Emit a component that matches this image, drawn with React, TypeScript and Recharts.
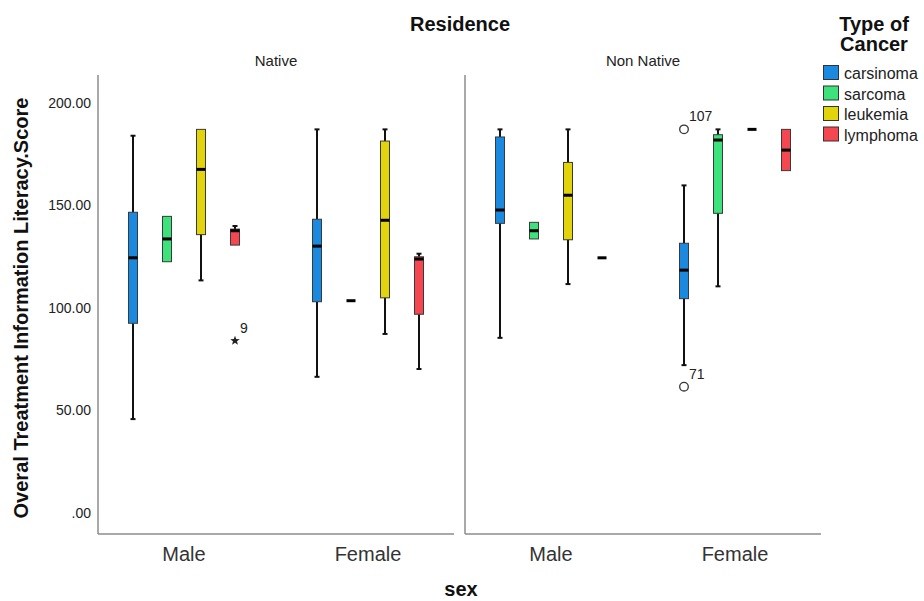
import React from 'react';
import { BarChart, Bar, XAxis, YAxis } from 'recharts';

const residences = ['Native', 'Non Native'];
const sexes = ['Male', 'Female'];
const cancerTypes = ['carsinoma', 'sarcoma', 'leukemia', 'lymphoma'];
const cancerColors = ['#1a8ae0', '#3de27b', '#e2d30b', '#f4474f'];
const yTicks = [0, 50, 100, 150, 200];

// [lower whisker, Q1, median, Q3, upper whisker]
// order: Native-Male, Native-Female, NonNative-Male, NonNative-Female
const carsinomaBoxes = [
  [45.8, 92.5, 124.4, 146.6, 183.9],
  [66.4, 103.0, 130.1, 143.2, 187.0],
  [85.4, 141.2, 147.7, 183.3, 187.0],
  [72.1, 104.5, 118.4, 131.5, 159.7],
];
const sarcomaBoxes = [
  [122.5, 122.5, 133.6, 144.6, 144.6],
  [103.5, 103.5, 103.5, 103.5, 103.5],
  [133.6, 133.6, 137.6, 141.7, 141.7],
  [110.5, 146.1, 181.8, 184.4, 187.0],
];
const leukemiaBoxes = [
  [113.4, 135.7, 167.5, 187.0, 187.0],
  [87.3, 104.9, 142.7, 181.3, 187.0],
  [111.6, 133.2, 154.9, 170.9, 187.0],
  [187.0, 187.0, 187.0, 187.0, 187.0],
];
const lymphomaBoxes = [
  [130.6, 130.6, 137.6, 138.4, 139.9],
  [70.2, 96.9, 123.8, 124.9, 126.4],
  [124.4, 124.4, 124.4, 124.4, 124.4],
  [166.9, 166.9, 176.9, 187.0, 187.0],
];
const boxesByType = [carsinomaBoxes, sarcomaBoxes, leukemiaBoxes, lymphomaBoxes];

const outlierPoints = [
  { cancer: 'lymphoma', residence: 'Native', sex: 'Male', value: 84.0, label: '9', marker: 'star' },
  { cancer: 'carsinoma', residence: 'Non Native', sex: 'Female', value: 187.0, label: '107', marker: 'circle' },
  { cancer: 'carsinoma', residence: 'Non Native', sex: 'Female', value: 61.6, label: '71', marker: 'circle' },
];

const FONT = '"Liberation Sans", Arial, Helvetica, sans-serif';
const Y_DOMAIN: [number, number] = [-10.2, 213.5];

function buildPanelData(ri: number) {
  return sexes.map((sex, si) => {
    const row: any = { sex };
    cancerTypes.forEach((c, ci) => {
      const s = boxesByType[ci][ri * 2 + si];
      const outs = outlierPoints.filter(
        (o) => o.cancer === c && o.residence === residences[ri] && o.sex === sex
      );
      const vals = [...s, ...outs.map((o) => o.value)];
      row[c] = {
        wl: s[0], q1: s[1], med: s[2], q3: s[3], wh: s[4], outs,
        min: Math.min(...vals), max: Math.max(...vals),
      };
    });
    return row;
  });
}

const panelData = residences.map((_, ri) => buildPanelData(ri));

function starPoints(cx: number, cy: number, R: number, r: number) {
  const pts: string[] = [];
  for (let i = 0; i < 10; i++) {
    const ang = -Math.PI / 2 + (i * Math.PI) / 5;
    const rad = i % 2 === 0 ? R : r;
    pts.push(`${cx + rad * Math.cos(ang)},${cy + rad * Math.sin(ang)}`);
  }
  return pts.join(' ');
}

const makeShape = (key: string, color: string) => (props: any) => {
  const { x, y, width, height, payload } = props;
  const st = payload[key];
  if (!st) return <g />;
  const top = Math.min(y, y + height);
  const bot = Math.max(y, y + height);
  const py = (v: number) =>
    st.max === st.min ? top : top + ((st.max - v) / (st.max - st.min)) * (bot - top);
  const cx = x + width / 2;
  const bw = 9;
  const cap = 2.5;
  return (
    <g>
      {st.wh > st.q3 && (
        <g>
          <line x1={cx} x2={cx} y1={py(st.wh)} y2={py(st.q3)} stroke="#111" strokeWidth={2} />
          <line x1={cx - cap} x2={cx + cap} y1={py(st.wh)} y2={py(st.wh)} stroke="#111" strokeWidth={2} />
        </g>
      )}
      {st.wl < st.q1 && (
        <g>
          <line x1={cx} x2={cx} y1={py(st.q1)} y2={py(st.wl)} stroke="#111" strokeWidth={2} />
          <line x1={cx - cap} x2={cx + cap} y1={py(st.wl)} y2={py(st.wl)} stroke="#111" strokeWidth={2} />
        </g>
      )}
      {st.q3 > st.q1 && (
        <rect
          x={cx - bw / 2}
          y={py(st.q3)}
          width={bw}
          height={py(st.q1) - py(st.q3)}
          fill={color}
          stroke="#3a3a3a"
          strokeWidth={1}
        />
      )}
      <line x1={cx - bw / 2} x2={cx + bw / 2} y1={py(st.med)} y2={py(st.med)} stroke="#000" strokeWidth={3} />
      {st.outs.map((o: any, i: number) => {
        const oy = py(o.value);
        return (
          <g key={i}>
            {o.marker === 'star' ? (
              <polygon points={starPoints(cx, oy, 5, 2.1)} fill="#222" />
            ) : (
              <circle cx={cx} cy={oy} r={4.3} fill="none" stroke="#333" strokeWidth={1.3} />
            )}
            <text x={cx + 5} y={oy - 8} fontSize={14} fill="#222" fontFamily={FONT}>
              {o.label}
            </text>
          </g>
        );
      })}
    </g>
  );
};

function Panel({ ri, showY }: { ri: number; showY: boolean }) {
  const yWidth = showY ? 98 : 10;
  return (
    <BarChart
      width={showY ? 460 : 372}
      height={601}
      data={panelData[ri]}
      margin={{ top: 75, right: 6, bottom: 27, left: 0 }}
      barSize={34}
      barGap={0}
    >
      <XAxis
        dataKey="sex"
        type="category"
        height={40}
        tickLine={false}
        tickMargin={7}
        axisLine={{ stroke: '#8c8c8c', strokeWidth: 1.5 }}
        tick={{ fontSize: 20, fill: '#333', fontFamily: FONT }}
        padding={{ left: -6, right: -6 }}
      />
      <YAxis
        type="number"
        width={yWidth}
        domain={Y_DOMAIN}
        ticks={yTicks}
        allowDataOverflow
        tickLine={false}
        tickMargin={1}
        axisLine={{ stroke: '#8c8c8c', strokeWidth: 1.5 }}
        tick={showY ? { fontSize: 14, fill: '#222', fontFamily: FONT } : false}
        tickFormatter={(v: number) => (v === 0 ? '.00' : v.toFixed(2))}
      />
      {cancerTypes.map((c, ci) => (
        <Bar
          key={c}
          dataKey={(row: any) => [row[c].min, row[c].max]}
          name={c}
          fill={cancerColors[ci]}
          isAnimationActive={false}
          shape={makeShape(c, cancerColors[ci])}
        />
      ))}
    </BarChart>
  );
}

export default function App() {
  return (
    <div
      style={{
        position: 'absolute',
        left: 0,
        top: 0,
        width: 924,
        height: 601,
        background: '#fff',
        fontFamily: FONT,
      }}
    >
      <div style={{ position: 'absolute', left: 0, top: 0 }}>
        <Panel ri={0} showY={true} />
      </div>
      <div style={{ position: 'absolute', left: 455, top: 0 }}>
        <Panel ri={1} showY={false} />
      </div>
      <svg
        width={924}
        height={601}
        style={{ position: 'absolute', left: 0, top: 0, pointerEvents: 'none' }}
        fontFamily={FONT}
      >
        <text x={460} y={31} textAnchor="middle" fontSize={20} fontWeight="bold" fill="#111">
          Residence
        </text>
        <text x={276} y={66} textAnchor="middle" fontSize={15} fill="#222">
          {residences[0]}
        </text>
        <text x={643} y={66} textAnchor="middle" fontSize={15} fill="#222">
          {residences[1]}
        </text>
        <text
          x={28}
          y={308}
          transform="rotate(-90 28 308)"
          textAnchor="middle"
          fontSize={20}
          fontWeight="bold"
          fill="#111"
        >
          Overal Treatment Information Literacy.Score
        </text>
        <text x={461} y={596} textAnchor="middle" fontSize={20} fontWeight="bold" fill="#111">
          sex
        </text>
        <text x={874} y={31} textAnchor="middle" fontSize={20} fontWeight="bold" fill="#111">
          Type of
        </text>
        <text x={874} y={51} textAnchor="middle" fontSize={20} fontWeight="bold" fill="#111">
          Cancer
        </text>
        {cancerTypes.map((c, ci) => (
          <g key={c}>
            <rect
              x={823.5}
              y={65.5 + ci * 20.5}
              width={15}
              height={14}
              fill={cancerColors[ci]}
              stroke="#333"
              strokeWidth={1}
            />
            <text x={844} y={79 + ci * 20.5} fontSize={16} fill="#222">
              {c}
            </text>
          </g>
        ))}
      </svg>
    </div>
  );
}
